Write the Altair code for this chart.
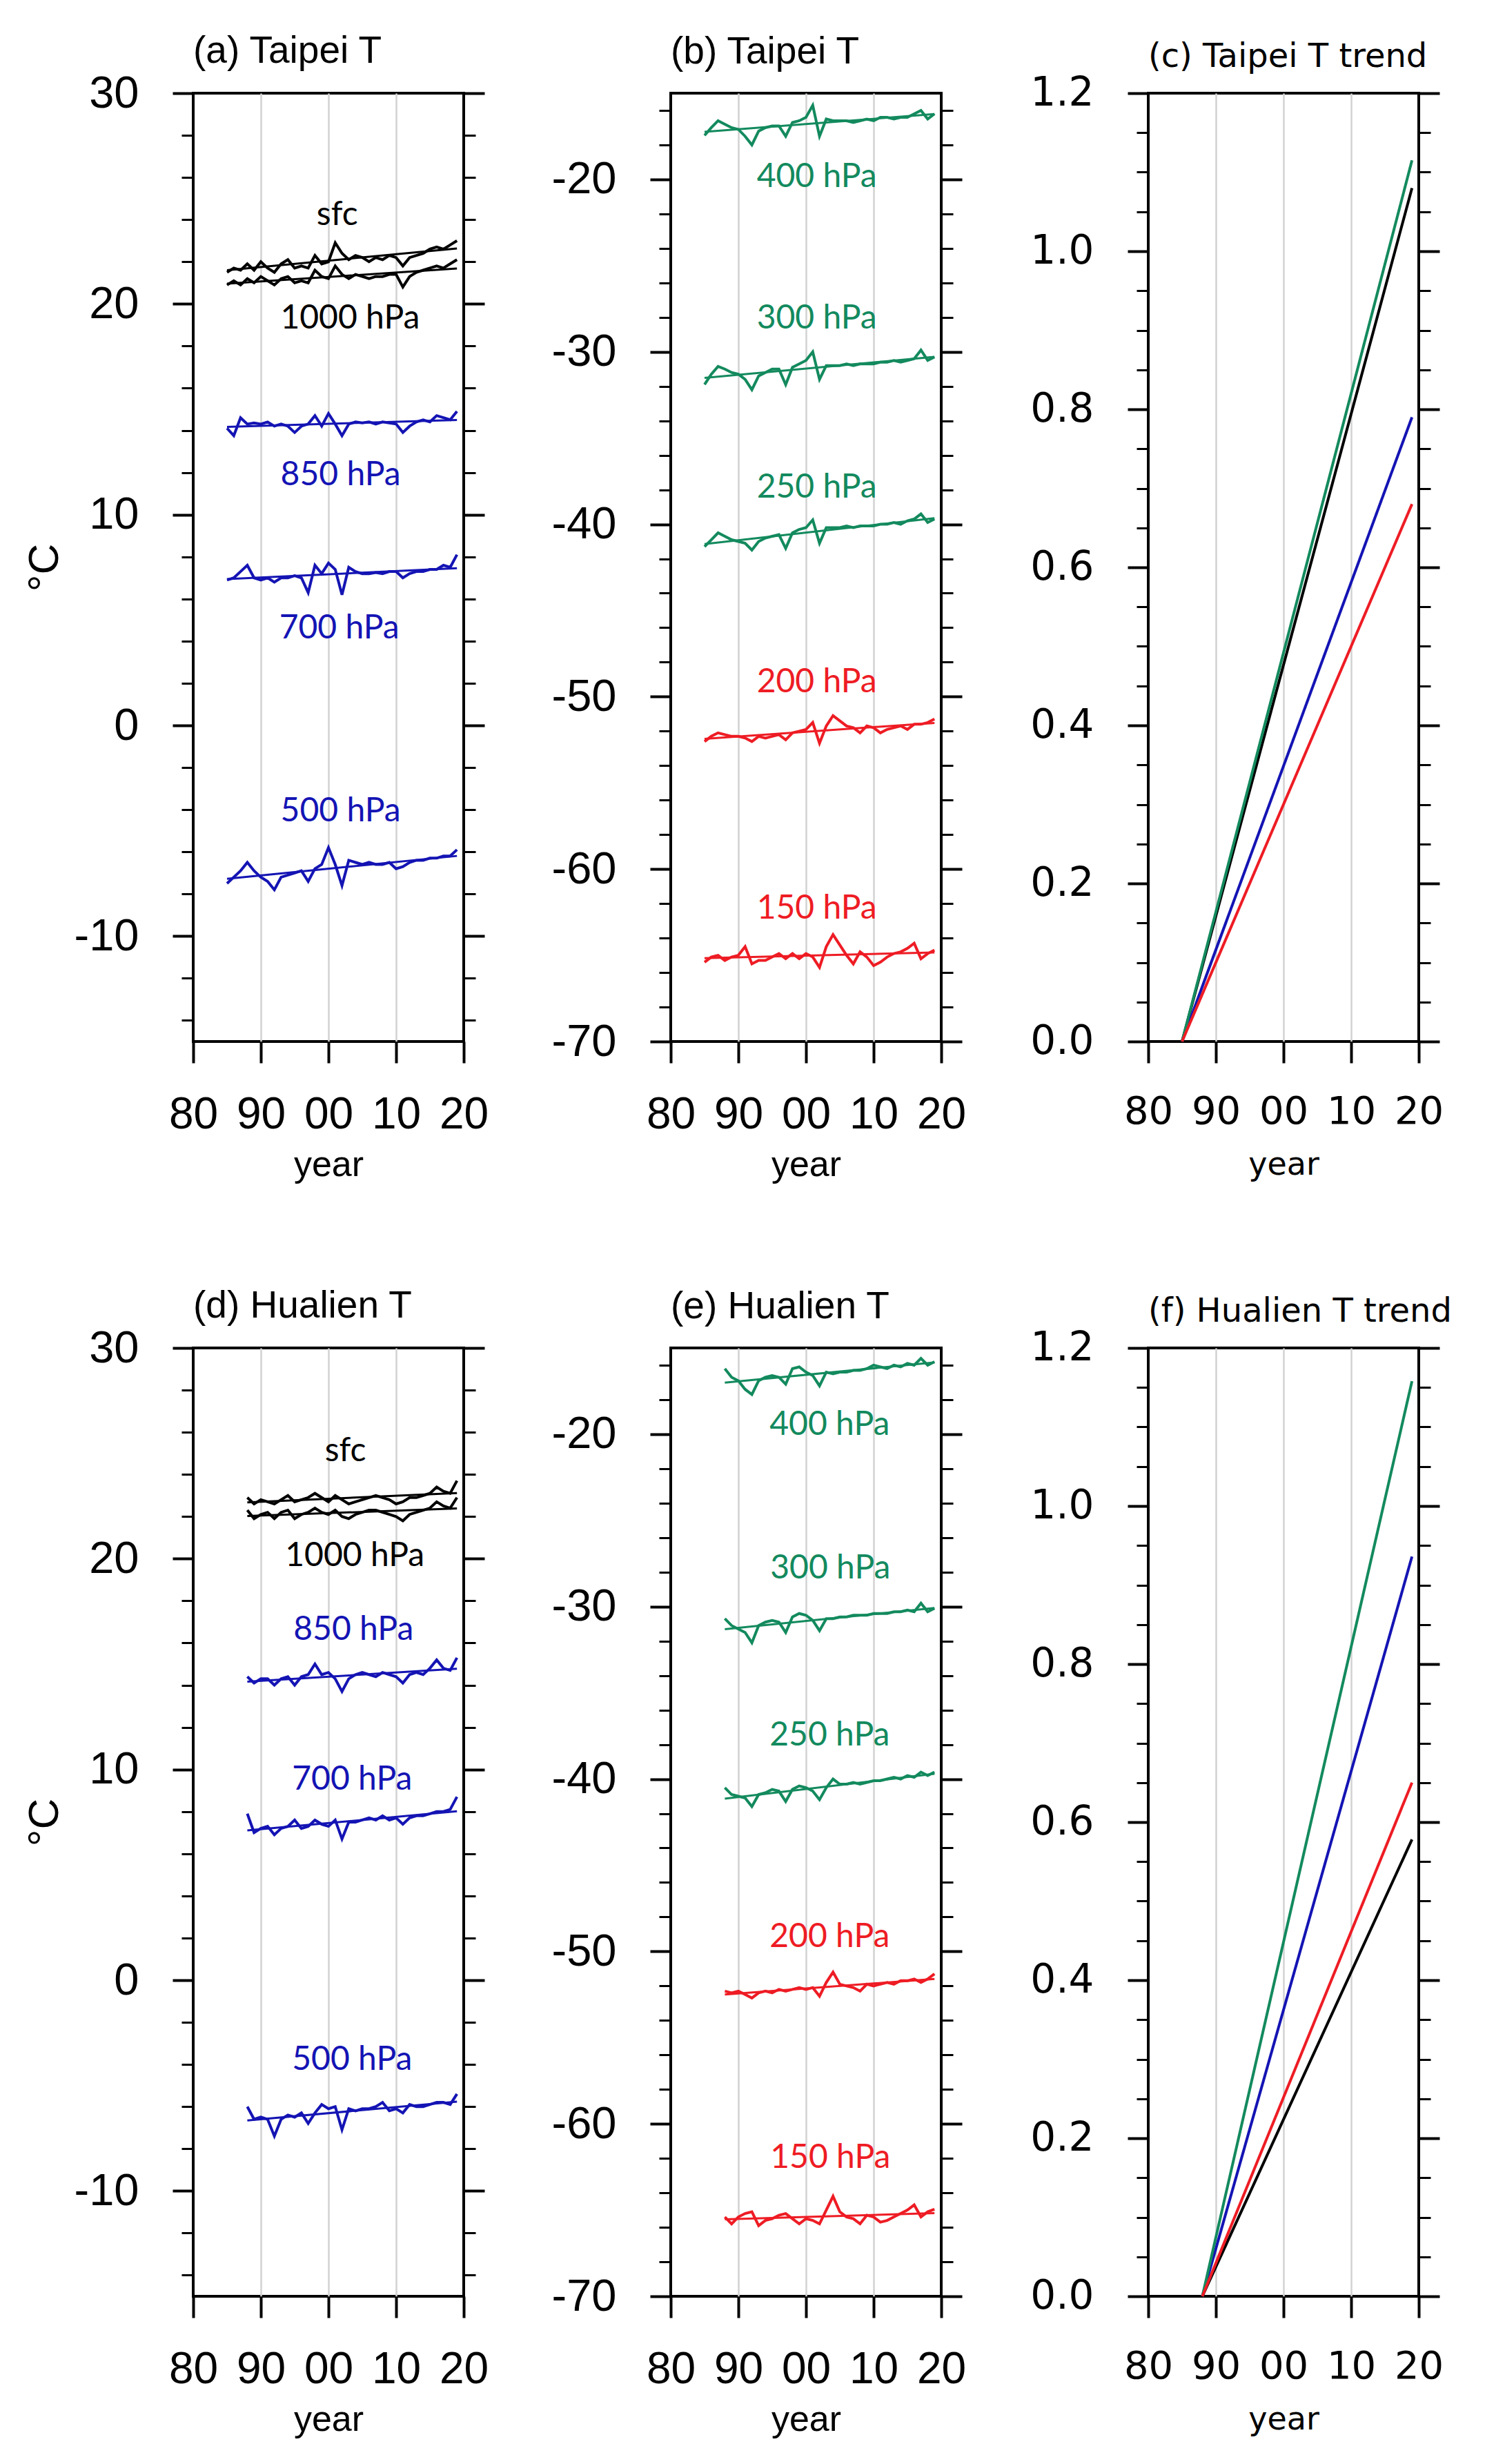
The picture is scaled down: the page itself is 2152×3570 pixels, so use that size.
import altair as alt
import pandas as pd

# ---------------- data ----------------
YEARS_TPE = list(range(1985, 2020))
YEARS_HUA = list(range(1988, 2020))

LEVELS = ["sfc", "1000", "850", "700", "500", "400", "300", "250", "200", "150"]
LEVEL_COLORS = ["#000000", "#000000", "#1414b4", "#1414b4", "#1414b4",
                "#138a5e", "#138a5e", "#138a5e", "#ee1c24", "#ee1c24"]
LEVEL_TEXT = ["sfc", "1000 hPa", "850 hPa", "700 hPa", "500 hPa",
              "400 hPa", "300 hPa", "250 hPa", "200 hPa", "150 hPa"]

# Taipei (1985-2019)
tpe_sfc = [21.5, 21.7, 21.6, 21.9, 21.6, 22.0, 21.7, 21.5, 21.9, 22.1, 21.7, 21.8, 21.7, 22.3, 21.9, 22.0, 22.9,
           22.4, 22.1, 22.3, 22.2, 22.0, 22.2, 22.1, 22.3, 22.2, 21.8, 22.2, 22.3, 22.4, 22.6, 22.7, 22.6, 22.8, 23.0]
tpe_1000 = [20.9, 21.1, 20.9, 21.2, 21.0, 21.3, 21.1, 20.9, 21.2, 21.3, 21.0, 21.1, 21.0, 21.6, 21.3, 21.2, 21.8,
            21.4, 21.2, 21.4, 21.3, 21.2, 21.3, 21.3, 21.4, 21.4, 20.8, 21.3, 21.5, 21.6, 21.7, 21.8, 21.7, 21.9, 22.1]
tpe_850 = [14.1, 13.75, 14.6, 14.3, 14.35, 14.3, 14.4, 14.2, 14.3, 14.2, 13.9, 14.2, 14.3, 14.7, 14.2, 14.8, 14.3,
           13.75, 14.3, 14.4, 14.35, 14.4, 14.3, 14.4, 14.35, 14.3, 13.9, 14.2, 14.4, 14.5, 14.4, 14.7, 14.6, 14.5, 14.9]
tpe_700 = [6.9, 7.0, 7.3, 7.6, 7.0, 6.9, 7.0, 6.8, 7.0, 7.0, 7.1, 7.0, 6.3, 7.6, 7.2, 7.7, 7.4,
           6.2, 7.5, 7.3, 7.2, 7.2, 7.25, 7.2, 7.3, 7.3, 7.0, 7.2, 7.3, 7.3, 7.4, 7.4, 7.6, 7.5, 8.1]
tpe_500 = [-7.5, -7.2, -6.9, -6.5, -6.9, -7.2, -7.4, -7.8, -7.2, -7.1, -7.0, -6.9, -7.4, -6.8, -6.6, -5.8, -6.6,
           -7.6, -6.4, -6.5, -6.6, -6.5, -6.6, -6.6, -6.5, -6.8, -6.7, -6.5, -6.4, -6.4, -6.3, -6.3, -6.2, -6.2, -5.9]
tpe_400 = [-17.45, -17.0, -16.6, -16.8, -17.0, -17.1, -17.5, -18.0, -17.2, -17.0, -16.9, -16.9, -17.5, -16.7, -16.6,
           -16.4, -15.7, -17.5, -16.5, -16.6, -16.6, -16.6, -16.7, -16.6, -16.5, -16.6, -16.4, -16.4, -16.5, -16.4,
           -16.4, -16.2, -16.0, -16.5, -16.2]
tpe_300 = [-31.9, -31.3, -30.85, -31.0, -31.2, -31.3, -31.6, -32.2, -31.4, -31.2, -31.0, -31.0, -31.9, -30.9, -30.7,
           -30.5, -30.0, -31.6, -30.8, -30.8, -30.8, -30.7, -30.8, -30.7, -30.7, -30.7, -30.6, -30.6, -30.5, -30.6,
           -30.5, -30.4, -29.9, -30.5, -30.3]
tpe_250 = [-41.3, -40.9, -40.5, -40.7, -40.9, -41.0, -41.1, -41.5, -41.0, -40.8, -40.7, -40.6, -41.4, -40.5, -40.3,
           -40.2, -39.75, -41.1, -40.2, -40.2, -40.2, -40.1, -40.2, -40.1, -40.1, -40.1, -40.0, -40.0, -39.9, -40.0,
           -39.8, -39.7, -39.4, -39.9, -39.7]
tpe_200 = [-52.6, -52.3, -52.1, -52.2, -52.3, -52.3, -52.4, -52.6, -52.3, -52.4, -52.3, -52.2, -52.5, -52.1, -52.0,
           -51.9, -51.5, -52.7, -51.7, -51.1, -51.4, -51.7, -51.8, -52.1, -51.7, -51.8, -52.1, -51.9, -51.8, -51.7,
           -51.9, -51.6, -51.6, -51.5, -51.3]
tpe_150 = [-65.4, -65.1, -65.0, -65.3, -65.1, -65.0, -64.5, -65.5, -65.3, -65.3, -65.1, -64.9, -65.2, -64.9, -65.2,
           -64.9, -65.1, -65.7, -64.5, -63.8, -64.4, -65.0, -65.5, -64.8, -65.1, -65.6, -65.4, -65.1, -64.9, -64.8,
           -64.6, -64.3, -65.2, -64.9, -64.7]

# Hualien (1988-2019)
hua_sfc = [22.9, 22.6, 22.8, 22.7, 22.6, 22.8, 23.0, 22.7, 22.8, 22.9, 23.1, 22.9, 22.7, 23.0, 22.8, 22.6,
           22.7, 22.8, 22.9, 23.0, 22.9, 22.8, 22.6, 22.7, 22.9, 22.9, 23.0, 23.1, 23.4, 23.2, 23.1, 23.7]
hua_1000 = [22.3, 21.9, 22.1, 22.2, 21.9, 22.2, 22.3, 21.9, 22.1, 22.2, 22.4, 22.2, 22.1, 22.3, 22.0, 21.9,
            22.1, 22.2, 22.3, 22.3, 22.2, 22.1, 22.0, 21.8, 22.1, 22.2, 22.3, 22.4, 22.7, 22.5, 22.4, 22.9]
hua_850 = [14.4, 14.1, 14.3, 14.3, 14.0, 14.3, 14.4, 14.0, 14.4, 14.5, 15.0, 14.5, 14.6, 14.3, 13.7, 14.3,
           14.5, 14.6, 14.5, 14.4, 14.6, 14.5, 14.4, 14.1, 14.5, 14.6, 14.5, 14.8, 15.2, 14.8, 14.7, 15.3]
hua_700 = [7.9, 7.0, 7.2, 7.3, 6.9, 7.2, 7.3, 7.6, 7.2, 7.3, 7.6, 7.4, 7.3, 7.6, 6.7, 7.5,
           7.5, 7.6, 7.7, 7.6, 7.8, 7.6, 7.7, 7.4, 7.7, 7.8, 7.8, 7.9, 8.0, 8.0, 8.1, 8.7]
hua_500 = [-6.0, -6.6, -6.5, -6.6, -7.4, -6.6, -6.4, -6.5, -6.3, -6.8, -6.3, -5.9, -6.1, -6.0, -7.1, -6.1,
           -6.2, -6.1, -6.1, -6.0, -5.8, -6.2, -6.1, -6.3, -5.9, -6.0, -6.0, -5.9, -5.8, -5.8, -5.9, -5.4]
hua_400 = [-16.2, -16.7, -16.9, -17.4, -17.7, -16.9, -16.7, -16.6, -16.7, -17.1, -16.2, -16.1, -16.4, -16.6, -17.2,
           -16.4, -16.5, -16.4, -16.4, -16.3, -16.3, -16.2, -16.0, -16.1, -16.2, -16.0, -16.1, -15.9, -16.0, -15.6,
           -16.0, -15.8]
hua_300 = [-30.7, -31.1, -31.3, -31.5, -32.1, -31.1, -30.9, -30.8, -30.9, -31.5, -30.6, -30.4, -30.5, -30.8, -31.4,
           -30.7, -30.7, -30.6, -30.6, -30.5, -30.5, -30.5, -30.4, -30.4, -30.4, -30.3, -30.3, -30.2, -30.3, -29.8,
           -30.3, -30.1]
hua_250 = [-40.5, -40.9, -41.0, -41.1, -41.6, -40.9, -40.8, -40.6, -40.7, -41.3, -40.6, -40.4, -40.5, -40.7, -41.2,
           -40.5, -40.0, -40.3, -40.3, -40.2, -40.3, -40.2, -40.1, -40.1, -40.0, -39.9, -40.0, -39.8, -39.9, -39.6,
           -39.8, -39.6]
hua_200 = [-52.3, -52.4, -52.3, -52.5, -52.7, -52.4, -52.3, -52.4, -52.2, -52.3, -52.2, -52.1, -52.2, -52.1, -52.6,
           -51.8, -51.2, -51.9, -52.0, -52.1, -52.3, -51.9, -52.0, -51.9, -51.8, -51.9, -51.7, -51.7, -51.6, -51.8,
           -51.6, -51.3]
hua_150 = [-65.4, -65.8, -65.4, -65.2, -65.1, -65.9, -65.6, -65.5, -65.3, -65.2, -65.5, -65.8, -65.5, -65.6, -65.8,
           -65.0, -64.2, -65.1, -65.4, -65.5, -65.8, -65.3, -65.4, -65.7, -65.6, -65.4, -65.2, -65.0, -64.7, -65.4,
           -65.1, -64.95]

# level-label anchor points (year, temperature)
tpe_a_lab_lv = ["sfc", "1000", "850", "700", "500"]
tpe_a_lab_x = [2001.3, 2003.2, 2001.8, 2001.6, 2001.8]
tpe_a_lab_y = [24.2, 19.3, 11.85, 4.6, -4.1]
tpe_b_lab_lv = ["400", "300", "250", "200", "150"]
tpe_b_lab_x = [2001.6, 2001.6, 2001.6, 2001.6, 2001.6]
tpe_b_lab_y = [-19.9, -28.1, -37.9, -49.2, -62.3]
hua_d_lab_x = [2002.5, 2003.9, 2003.7, 2003.5, 2003.5]
hua_d_lab_y = [25.1, 20.1, 16.6, 9.5, -3.8]
hua_e_lab_x = [2003.5, 2003.6, 2003.5, 2003.5, 2003.6]
hua_e_lab_y = [-19.5, -27.8, -37.5, -49.2, -62.0]

# trend panels: accumulated linear trend (0 at first year, value at 2019)
TREND_GROUPS = ["sfc-1000 hPa", "850-500 hPa", "400-250 hPa", "200-150 hPa"]
TREND_COLORS = ["#000000", "#1414b4", "#138a5e", "#ee1c24"]
tpe_trend_years = [1985, 2019]
tpe_trend_end = [1.08, 0.79, 1.115, 0.68]
hua_trend_years = [1988, 2019]
hua_trend_end = [0.578, 0.936, 1.158, 0.65]

ALL_KEYS = LEVELS + TREND_GROUPS
ALL_COLORS = LEVEL_COLORS + TREND_COLORS

XTICKS = [1980, 1990, 2000, 2010, 2020]
Y_LOW_MAJOR = [-10, 0, 10, 20, 30]
Y_LOW_MINOR = [v for v in range(-14, 30, 2) if v % 10 != 0]
Y_UP_MAJOR = [-70, -60, -50, -40, -30, -20]
Y_UP_MINOR = [v for v in range(-68, -14, 2) if v % 10 != 0]
Y_TR_MAJOR = [0.0, 0.2, 0.4, 0.6, 0.8, 1.0, 1.2]
Y_TR_MINOR = [round(0.05 * i, 2) for i in range(1, 24) if i % 4 != 0]


def series_frame(years, series):
    rows = []
    for lv, vals in series.items():
        for y, v in zip(years, vals):
            rows.append({"level": lv, "year": y, "temp": v})
    return pd.DataFrame(rows)


def label_frame(levels, xs, ys):
    txt = dict(zip(LEVELS, LEVEL_TEXT))
    return pd.DataFrame({"level": levels, "year": xs, "temp": ys, "text": [txt[l] for l in levels]})


def trend_frame(years, ends):
    rows = []
    for g, e in zip(TREND_GROUPS, ends):
        rows.append({"level": g, "year": years[0], "temp": 0.0})
        rows.append({"level": g, "year": years[1], "temp": e})
    return pd.DataFrame(rows)


# ---------------- styling helpers ----------------
W, H = 392, 1374
COLOR_SCALE = alt.Scale(domain=ALL_KEYS, range=ALL_COLORS)


def x_axis(font, lsize, tsize, tpad):
    return alt.Axis(values=XTICKS, format="d", labelExpr="slice(datum.label, 2)",
                    tickSize=31, tickWidth=4, tickColor="black", domain=False,
                    grid=True, gridColor="#d2d2d2", gridWidth=2.5,
                    gridOpacity={"condition": {"test": "datum.value == 1980 || datum.value == 2020", "value": 0},
                                 "value": 1},
                    labelFont=font, labelFontSize=lsize, labelColor="black", labelPadding=43,
                    labelFlush=False, labelOverlap=False,
                    title="year", titleFont=font, titleFontSize=tsize, titleFontWeight="normal",
                    titleColor="black", titlePadding=tpad)


def y_axis(orient, values, size, labels, font="Liberation Sans", lsize=65, trend=False, title=None, width=4):
    kw = dict(orient=orient, values=values, tickSize=size, tickWidth=width, tickColor="black",
              domain=False, grid=False, labels=labels,
              labelExpr="format(datum.value, '.1f')" if trend else "toString(datum.value)",
              labelFont=font, labelFontSize=lsize, labelColor="black", labelPadding=49,
              labelFlush=False, labelOverlap=False)
    if title:
        kw.update(title=title, titleFont="Liberation Sans", titleFontSize=62, titleFontWeight="normal",
                  titleColor="black", titlePadding=11)
    else:
        kw.update(title=None)
    return alt.Axis(**kw)


def panel(df, labels, ydom, major, minor, title, title_offset, ytitle=None, trend=False):
    font = "DejaVu Sans" if trend else "Liberation Sans"
    lsize = 58 if trend else 65
    xsc = alt.Scale(domain=[1980, 2020], nice=False, zero=False)
    ysc = alt.Scale(domain=ydom, nice=False, zero=False)
    X = alt.X("year:Q", scale=xsc,
              axis=x_axis(font, 56 if trend else 64, 46 if trend else 52, 27 if trend else 15))

    def Y(axis):
        return alt.Y("temp:Q", scale=ysc, axis=axis)

    col = alt.Color("level:N", scale=COLOR_SCALE, legend=None)
    base = alt.Chart(df)
    layers = []
    if trend:
        layers.append(base.mark_line(strokeWidth=4).encode(x=X, y=Y(None), color=col, detail="level:N"))
    else:
        layers.append(base.mark_line(strokeWidth=4).encode(x=X, y=Y(None), color=col, detail="level:N"))
        layers.append(base.transform_regression("year", "temp", groupby=["level"])
                      .mark_line(strokeWidth=3).encode(x=X, y=Y(None), color=col, detail="level:N"))
        layers.append(alt.Chart(labels).mark_text(font="Lato", fontSize=48, align="center", baseline="middle")
                      .encode(x=X, y=Y(None), text="text:N", color=col))
    # axis-carrier layers (invisible)
    layers.append(base.mark_point(opacity=0).encode(
        x=X, y=Y(y_axis("left", major, 30, True, font, lsize, trend, ytitle))))
    layers.append(base.mark_point(opacity=0).encode(
        x=X, y=Y(y_axis("left", minor, 17, False, font, lsize, trend, None, 3))))
    layers.append(base.mark_point(opacity=0).encode(
        x=X, y=Y(y_axis("right", major, 30, False, font, lsize, trend))))
    layers.append(base.mark_point(opacity=0).encode(
        x=X, y=Y(y_axis("right", minor, 17, False, font, lsize, trend, None, 3))))

    ttl = alt.Title(title, anchor="start", frame="group", orient="top", baseline="alphabetic",
                    offset=title_offset, font=font, fontSize=48 if trend else 55,
                    fontWeight="normal", color="black")
    return alt.layer(*layers).resolve_axis(y="independent").properties(width=W, height=H, title=ttl)


tpe_low = series_frame(YEARS_TPE, {"sfc": tpe_sfc, "1000": tpe_1000, "850": tpe_850, "700": tpe_700, "500": tpe_500})
tpe_up = series_frame(YEARS_TPE, {"400": tpe_400, "300": tpe_300, "250": tpe_250, "200": tpe_200, "150": tpe_150})
hua_low = series_frame(YEARS_HUA, {"sfc": hua_sfc, "1000": hua_1000, "850": hua_850, "700": hua_700, "500": hua_500})
hua_up = series_frame(YEARS_HUA, {"400": hua_400, "300": hua_300, "250": hua_250, "200": hua_200, "150": hua_150})

pa = panel(tpe_low, label_frame(tpe_a_lab_lv, tpe_a_lab_x, tpe_a_lab_y), [-15, 30], Y_LOW_MAJOR, Y_LOW_MINOR,
           "(a) Taipei T", -43, ytitle="\u00b0C")
pb = panel(tpe_up, label_frame(tpe_b_lab_lv, tpe_b_lab_x, tpe_b_lab_y), [-70, -15], Y_UP_MAJOR, Y_UP_MINOR,
           "(b) Taipei T", -12)
pc = panel(trend_frame(tpe_trend_years, tpe_trend_end), None, [0, 1.2], Y_TR_MAJOR, Y_TR_MINOR,
           "(c) Taipei T trend", -39, trend=True)
pd_ = panel(hua_low, label_frame(tpe_a_lab_lv, hua_d_lab_x, hua_d_lab_y), [-15, 30], Y_LOW_MAJOR, Y_LOW_MINOR,
            "(d) Hualien T", -43, ytitle="\u00b0C")
pe = panel(hua_up, label_frame(tpe_b_lab_lv, hua_e_lab_x, hua_e_lab_y), [-70, -15], Y_UP_MAJOR, Y_UP_MINOR,
           "(e) Hualien T", -12)
pf = panel(trend_frame(hua_trend_years, hua_trend_end), None, [0, 1.2], Y_TR_MAJOR, Y_TR_MINOR,
           "(f) Hualien T trend", -39, trend=True)

chart = alt.concat(pa, pb, pc, pd_, pe, pf, columns=3, spacing={"row": 444, "column": 300},
                   bounds="flush").resolve_scale(color="shared").properties(
    padding={"left": 23, "top": 37, "right": 5, "bottom": 5}, background="white"
).configure_view(stroke="black", strokeWidth=4)

chart.save("out.html", embed_options={"renderer": "svg", "actions": False})
